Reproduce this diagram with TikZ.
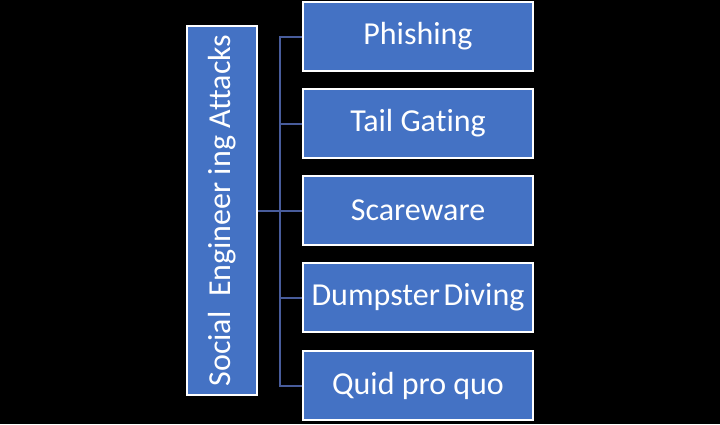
\documentclass[tikz,border=0pt]{standalone}
\usepackage{fontspec}
\setmainfont{Carlito}[Ligatures=NoCommon]
\definecolor{boxblue}{HTML}{4472C4}
\definecolor{linkblue}{RGB}{72,92,155}
\begin{document}
\begin{tikzpicture}[x=1pt,y=-1pt,
  item/.style={draw=white,line width=2pt,fill=boxblue,text=white,
    minimum width=230pt,minimum height=69pt,inner sep=0pt,
    font=\fontsize{32}{38}\selectfont},
  root/.style={draw=white,line width=2pt,fill=boxblue,text=white,
    minimum width=369pt,minimum height=70pt,inner sep=0pt,rotate=90,
    font=\fontsize{32}{38}\selectfont},
  link/.style={draw=linkblue,line width=2pt}]
\fill[black] (0,0) rectangle (720,424);
\useasboundingbox (0,0) rectangle (720,424);
\node[root] (L) at (222,210.5) {Social\ \ Engineer ing Attacks};
\node[item] (R1) at (418,36.5) {Phishing};
\node[item] (R2) at (418,123.5) {Tail Gating};
\node[item] (R3) at (418,210.5) {Scareware};
\node[item] (R4) at (418,297.5) {Dumpster\hspace{0.12em}Diving};
\node[item] (R5) at (418,385.5) {Quid pro quo};
\coordinate (bus) at (280,0);
\draw[link] (L.south) -- (R3.west);
\draw[link] (R1.west) -- (R1.west -| bus) -- (R5.west -| bus) -- (R5.west);
\draw[link] (R2.west) -- (R2.west -| bus);
\draw[link] (R4.west) -- (R4.west -| bus);
\end{tikzpicture}
\end{document}
